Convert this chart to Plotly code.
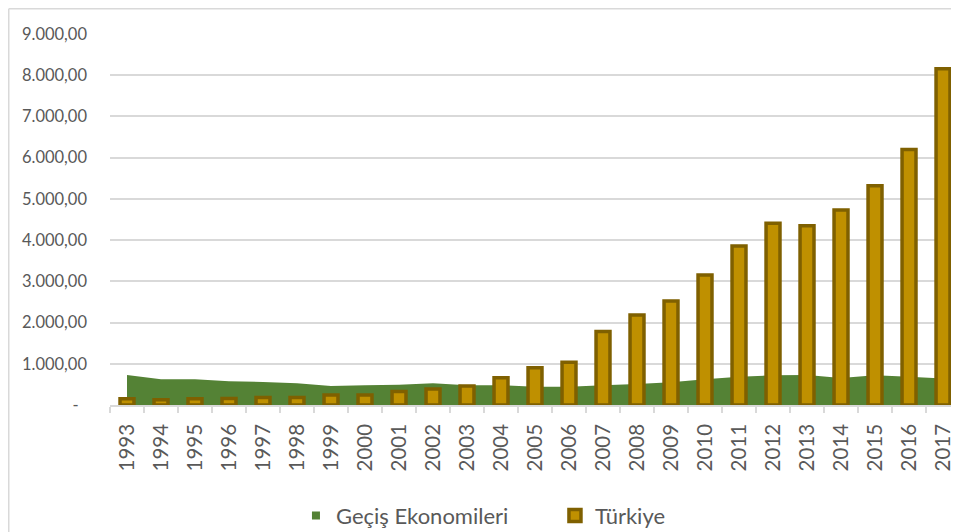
import plotly.graph_objects as go

# data
years = [str(y) for y in range(1993, 2018)]
gecis = [728, 623, 623, 575, 558, 526, 461, 478, 493, 527, 478, 478, 445,
         445, 478, 510, 550, 623, 688, 720, 728, 655, 720, 688, 640]
turkiye = [150, 125, 150, 160, 180, 180, 245, 245, 325, 390, 460, 660, 905,
           1035, 1780, 2185, 2525, 3155, 3860, 4410, 4350, 4730, 5320, 6200, 8155]
y_ticks = [0, 1000, 2000, 3000, 4000, 5000, 6000, 7000, 8000, 9000]
y_labels = ['-\u00a0\u00a0', '1.000,00', '2.000,00', '3.000,00', '4.000,00',
            '5.000,00', '6.000,00', '7.000,00', '8.000,00', '9.000,00']

green = '#548235'
gold = '#BF9000'
gold_dark = '#7F6000'
grey_text = '#595959'
grid = '#D9D9D9'
font = 'Lato'

fig = go.Figure()

# legend entry for the area (small square like the original)
fig.add_trace(go.Scatter(x=[None], y=[None], mode='markers', name='Geçiş Ekonomileri',
                         marker=dict(symbol='square', size=8, color=green)))

# area series on base axes (drawn under the bars)
fig.add_trace(go.Scatter(x=years, y=gecis, mode='none', fill='tozeroy',
                         fillcolor=green, showlegend=False, hoverinfo='x+y'))

# bars on overlay axes so they sit on top of the area
fig.add_trace(go.Bar(x=years, y=turkiye, name='Türkiye', xaxis='x2', yaxis='y2',
                     width=0.41,
                     marker=dict(color=gold, line=dict(color=gold_dark, width=3.5))))

xrange = [-0.5, 24.47]

# page body adds an 8px margin, so the figure is a bit smaller than the window
fig.update_layout(
    width=951, height=524,
    margin=dict(l=102, r=0, t=26, b=127),
    paper_bgcolor='white', plot_bgcolor='white',
    font=dict(family=font, color=grey_text),
    bargap=0.5,
    xaxis=dict(type='category', range=xrange, tickangle=-90, automargin=False,
               tickfont=dict(size=20.5, color=grey_text),
               ticks='outside', tickson='boundaries', ticklen=6, tickcolor=grid, tickwidth=1.5,
               showline=True, linecolor=grid, linewidth=1.5, showgrid=False,
               layer='below traces', ticklabelstandoff=9),
    yaxis=dict(range=[0, 9000], tickvals=y_ticks, ticktext=y_labels, automargin=False,
               tickfont=dict(size=16.5, color=grey_text),
               showgrid=True, gridcolor=grid, gridwidth=1.5, zeroline=False,
               showline=False, ticks='', ticklabelstandoff=22),
    xaxis2=dict(type='category', overlaying='x', range=xrange, visible=False),
    yaxis2=dict(overlaying='y', range=[0, 9000], visible=False),
    legend=dict(orientation='h', xref='container', yref='container',
                x=0.3028, xanchor='left', y=0.031, yanchor='middle',
                entrywidth=214, font=dict(size=22, color=grey_text),
                bgcolor='rgba(0,0,0,0)'),
    shapes=[
        # chart frame: only the left and top edges fall inside the window
        dict(type='line', xref='paper', yref='paper', x0=-0.11926, x1=-0.11926,
             y0=-0.4, y1=1.068, line=dict(color=grid, width=1.5), layer='below'),
        dict(type='line', xref='paper', yref='paper', x0=-0.11926, x1=1.05,
             y0=1.068, y1=1.068, line=dict(color=grid, width=1.5), layer='below'),
    ],
)

fig.write_html("out.html")
